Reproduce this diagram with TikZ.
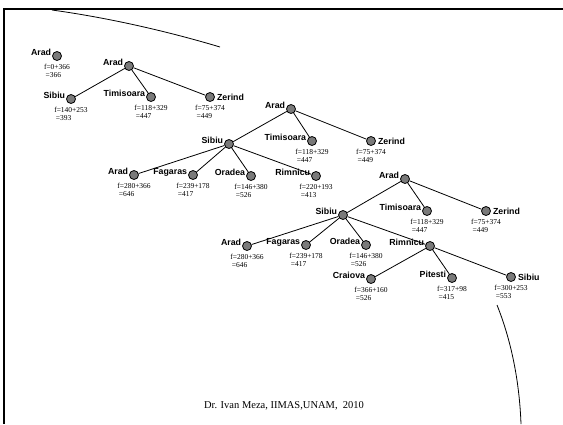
\documentclass[tikz,border=0pt]{standalone}
\usepackage{fontspec}
\setmainfont{Liberation Serif}
\setsansfont{Liberation Sans}
\begin{document}
\begin{tikzpicture}[x=1bp,y=-1bp,
  nd/.style={circle,draw=black,fill=black!52,line width=0.8bp,inner sep=0pt,minimum size=9bp},
  nlab/.style={font=\sffamily\bfseries\fontsize{8.8bp}{10bp}\selectfont,inner sep=0pt},
  fval/.style={font=\fontsize{7.5bp}{9bp}\selectfont,inner sep=0pt,align=left,anchor=north},
  edge/.style={line width=0.8bp}]
\useasboundingbox (0,0) rectangle (563,424);

% search-tree node, label on the left: name, position, label
\newcommand\tnL[3]{%
  \node[nd] (#1) at (#2) {};
  \node[nlab,anchor=base east] (#1-l) at ([xshift=-0.8bp,yshift=1bp]#1.west) {#3};}
% search-tree node, label on the right
\newcommand\tnR[3]{%
  \node[nd] (#1) at (#2) {};
  \node[nlab,anchor=base west] (#1-l) at ([xshift=2bp,yshift=-3bp]#1.east) {#3};}
% f-value under a node: node name, sum, total
\newcommand\fv[3]{%
  \node[fval] (#1-f) at ([yshift=-2.8bp]#1.south) {f=#2\\[-0.5bp]\hspace*{1.5bp}=#3};}

% frame
\draw[line width=2.5bp] (563,9) -- (4,9) -- (4,424);

% tree 1
\tnL{a1}{57,56}{Arad} \fv{a1}{0+366}{366}

% tree 2
\tnL{a2}{129,66}{Arad}
\tnL{s2}{71,99}{Sibiu} \fv{s2}{140+253}{393}
\tnL{t2}{151,97}{Timisoara} \fv{t2}{118+329}{447}
\tnR{z2}{210,97}{Zerind} \fv{z2}{75+374}{449}
\draw[edge] (a2) -- (s2) (a2) -- (t2) (a2) -- (z2);

% tree 3
\tnL{a3}{291,109}{Arad}
\tnL{s3}{229,144}{Sibiu}
\tnL{t3}{312,141}{Timisoara} \fv{t3}{118+329}{447}
\tnR{z3}{371,141}{Zerind} \fv{z3}{75+374}{449}
\tnL{r3}{134,175}{Arad} \fv{r3}{280+366}{646}
\tnL{f3}{193,175}{Fagaras} \fv{f3}{239+178}{417}
\tnL{o3}{251,176}{Oradea} \fv{o3}{146+380}{526}
\tnL{m3}{316,176}{Rimnicu} \fv{m3}{220+193}{413}
\draw[edge] (a3) -- (s3) (a3) -- (t3) (a3) -- (z3)
  (s3) -- (r3) (s3) -- (f3) (s3) -- (o3) (s3) -- (m3);

% tree 4
\tnL{a4}{405,179}{Arad}
\tnL{s4}{343,215}{Sibiu}
\tnL{t4}{427,211}{Timisoara} \fv{t4}{118+329}{447}
\tnR{z4}{486,211}{Zerind} \fv{z4}{75+374}{449}
\tnL{r4}{247,246}{Arad} \fv{r4}{280+366}{646}
\tnL{f4}{306,245}{Fagaras} \fv{f4}{239+178}{417}
\tnL{o4}{366,245}{Oradea} \fv{o4}{146+380}{526}
\tnL{m4}{430,246}{Rimnicu}
\tnL{c4}{371,279}{Craiova} \fv{c4}{366+160}{526}
\tnL{p4}{452,278}{Pitesti} \fv{p4}{317+98}{415}
\tnR{b4}{511,277}{Sibiu} \fv{b4}{300+253}{553}
\draw[edge] (a4) -- (s4) (a4) -- (t4) (a4) -- (z4)
  (s4) -- (r4) (s4) -- (f4) (s4) -- (o4) (s4) -- (m4)
  (m4) -- (c4) (m4) -- (p4) (m4) -- (b4);

% decorative arcs
\coordinate (arcA0) at (52,10);
\coordinate (arcA1) at (220,47);
\draw[line width=0.8bp] (arcA0) .. controls (110,18) and (170,32) .. (arcA1);
\coordinate (arcB0) at (497,305);
\coordinate (arcB1) at (521,424);
\draw[line width=0.8bp] (arcB0) .. controls (507,330) and (519,370) .. (arcB1);

% footer
\node[font=\fontsize{10.5bp}{12bp}\selectfont,inner sep=0pt] (foot) at (284,406) {Dr. Ivan Meza, IIMAS,UNAM,~ 2010};
\end{tikzpicture}
\end{document}
